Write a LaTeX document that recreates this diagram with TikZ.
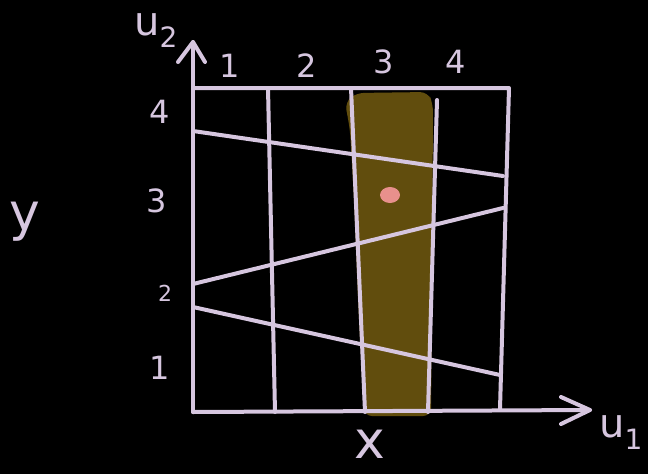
\documentclass[tikz,border=0pt]{standalone}
\usepackage{fontspec}
\setmainfont{DejaVu Sans}
\usepackage{tikz}
\usetikzlibrary{positioning}
\definecolor{Chalk}{RGB}{214, 198, 223}
\definecolor{Mud}{RGB}{97, 77, 13}
\definecolor{Blush}{RGB}{232, 144, 140}
\tikzset{
    chalk/.style={draw=Chalk, line width=4pt, line cap=round, line join=round},
    tick/.style={text=Chalk, font=\fontsize{32}{36}\selectfont},
    axlabel/.style={text=Chalk, font=\fontsize{52}{56}\selectfont, inner sep=1pt},
}

\begin{document}
\begin{tikzpicture}[x=1pt, y=-1pt]
            % background and frame of the page
            \fill[black] (0,0) rectangle (648,474);
            \useasboundingbox (0,0) rectangle (648,474);
            % the shaded strip
            \fill[Mud, rounded corners=8pt] (345,102) -- (356,93) -- (428,92) -- (433,104)
                -- (432,300) -- (431,416) -- (364,416) -- (358,300) -- (354,200) -- (350,130) -- cycle;
            % axes
            \coordinate (O) at (193,412);
            \coordinate (Ytop) at (193,42);
            \coordinate (Xend) at (590,410);
            \draw[chalk] (O) -- (Ytop);
            \draw[chalk] (178,62) -- (Ytop) -- (205,62);
            \draw[chalk] (O) -- (Xend);
            \draw[chalk] (561,397) -- (Xend) -- (561,424);
            % frame of the grid
            \draw[chalk] (193,88) -- (509,88) -- (500,409);
            % columns
            \draw[chalk] (268,88) -- (275,412);
            \draw[chalk] (351,88) -- (365,412);
            \draw[chalk] (437,100) -- (428,412);
            % slanted rows
            \draw[chalk] (193,131) -- (503,176);
            \draw[chalk] (193,284) -- (503,208);
            \draw[chalk] (193,307) -- (500,375);
            % the point
            \fill[Blush] (390,195) ellipse (10pt and 8pt);
            % labels
            \node[tick] (c1) at (230,66) {1};
            \node[tick] (c2) at (307,66) {2};
            \node[tick] (c3) at (384,62) {3};
            \node[tick] (c4) at (456,62) {4};
            \node[tick] (r4) at (160,112) {4};
            \node[tick] (r3) at (157,201) {3};
            \node[tick, font=\fontsize{22}{24}\selectfont] (r2) at (165,293) {2};
            \node[tick] (r1) at (160,368) {1};
            \node[axlabel] (ylab) at (25,222) {y};
            \node[axlabel] (xlab) at (370,444) {x};
            \node[text=Chalk, font=\fontsize{40}{44}\selectfont, inner sep=1pt] (u2) at (156,30) {u\textsubscript{2}};
            \node[text=Chalk, font=\fontsize{40}{44}\selectfont, anchor=west, inner sep=1pt] (u1) at (598,432) {u\textsubscript{1}};
        \end{tikzpicture}
\end{document}
